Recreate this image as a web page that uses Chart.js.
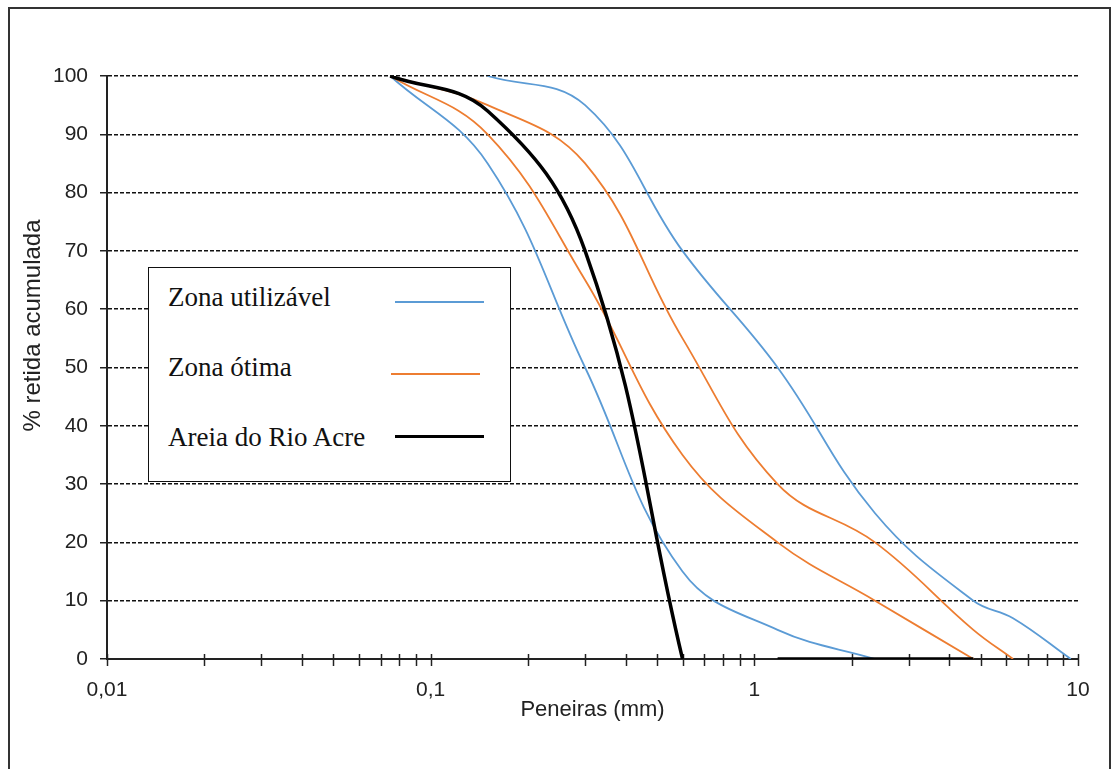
<!DOCTYPE html>
<html>
<head>
<meta charset="utf-8">
<script src="https://cdn.jsdelivr.net/npm/chart.js@4/dist/chart.umd.min.js"></script>
<style>
  body { margin: 0; background: #fff; }
  #wrap { position: absolute; left: 0; top: 0; width: 1112px; height: 769px; }
  #frame { position: absolute; left: 8px; top: 7px; width: 1099px; height: 800px; border: 2px solid #333; }
  #legend { position: absolute; left: 148px; top: 267px; width: 361px; height: 213px; border: 1.5px solid #111; background: #fff;
            font-family: 'Liberation Serif', 'Times New Roman', serif; font-size: 27px; color: #111; }
  .row { position: absolute; left: 19px; line-height: 32px; white-space: nowrap; }
  .smp { position: absolute; }
</style>
</head>
<body>
<div id="wrap"><canvas id="granChart"></canvas></div>
<div id="frame"></div>
<div id="legend">
  <div class="row" style="top:13px">Zona utilizável</div>
  <div class="smp" style="left:246px;top:33px;width:89px;border-top:2px solid #5B9BD5"></div>
  <div class="row" style="top:83px">Zona ótima</div>
  <div class="smp" style="left:242px;top:105px;width:89px;border-top:2px solid #ED7D31"></div>
  <div class="row" style="top:153px">Areia do Rio Acre</div>
  <div class="smp" style="left:246px;top:167px;width:89px;border-top:3.5px solid #000"></div>
</div>
<script>
'use strict';

// peneiras (mm) e % retida acumulada
const sieves     = [0.075, 0.15, 0.3, 0.6, 1.18, 2.36, 4.75, 6.3, 9.5];
const utilLower  = [100,   85,   50,  15,  5,    0,    null, null, null];
const utilUpper  = [null,  100,  95,  70,  50,   25,   10,   7,    0];
const otimaLower = [100,   90,   65,  35,  20,   10,   0,    null, null];
const otimaUpper = [100,   95,   85,  55,  30,   20,   5,    0,    null];
const areia      = [100,   94,   70,  0,   0,    0,    0,    null, null];

const xMajor  = [0.01, 0.1, 1, 10];
const xLabels = ['0,01', '0,1', '1', '10'];
const yTicks  = [0, 10, 20, 30, 40, 50, 60, 70, 80, 90, 100];

const BLUE = '#5B9BD5', ORANGE = '#ED7D31';
const FONT = 'Liberation Sans, Arial';

// marcas menores 2..9 em cada década
const xTickValues = [];
xMajor.forEach((d, i) => {
  xTickValues.push(d);
  if (i < xMajor.length - 1) for (let k = 2; k <= 9; k++) xTickValues.push(+(d * k).toPrecision(3));
});

const pts = arr => sieves.map((x, i) => ({ x, y: arr[i] }));

function line(label, arr, color, width, order) {
  return { label, data: pts(arr), borderColor: color, borderWidth: width, pointRadius: 0,
           tension: 0.4, fill: false, spanGaps: false, order };
}

// marcas do eixo x atravessando a linha do eixo
const xTickMarks = {
  id: 'xTickMarks',
  beforeDatasetsDraw(chart) {
    const { ctx, scales: { x }, chartArea } = chart;
    ctx.save();
    ctx.strokeStyle = '#222';
    ctx.lineWidth = 1.5;
    xTickValues.forEach(v => {
      const px = Math.round(x.getPixelForValue(v)) + 0.5;
      ctx.beginPath();
      ctx.moveTo(px, chartArea.bottom - 5);
      ctx.lineTo(px, chartArea.bottom + 7);
      ctx.stroke();
    });
    ctx.restore();
  }
};

// a curva da areia termina em 0,6 e o trecho em 0 recomeça em 1,18
const areiaCurva = areia.map((v, i) => (i <= 3 ? v : null));
const areiaZero  = areia.map((v, i) => (i >= 4 ? v : null));

new Chart(document.getElementById('granChart').getContext('2d'), {
  type: 'line',
  data: {
    datasets: [
      line('Areia do Rio Acre', areiaCurva, '#000', 3.5, 0),
      line('Areia do Rio Acre', areiaZero, '#000', 3.5, 0),
      line('Zona ótima', otimaLower, ORANGE, 1.8, 1),
      line('Zona ótima', otimaUpper, ORANGE, 1.8, 1),
      line('Zona utilizável', utilLower, BLUE, 1.8, 2),
      line('Zona utilizável', utilUpper, BLUE, 1.8, 2)
    ]
  },
  options: {
    responsive: true, maintainAspectRatio: false, animation: false, devicePixelRatio: 1,
    layout: { padding: { left: 0, top: 76, right: 34, bottom: 0 } },
    plugins: { legend: { display: false }, tooltip: { enabled: false } },
    scales: {
      x: {
        type: 'logarithmic', min: 0.01, max: 10,
        afterBuildTicks: s => { s.ticks = xTickValues.map(v => ({ value: v })); },
        afterFit: s => { s.height = 110; },
        grid: { display: false, drawTicks: false, tickLength: 0 },
        border: { display: true, color: '#222', width: 2 },
        ticks: {
          autoSkip: false, maxRotation: 0, padding: 19, color: '#222',
          font: { family: FONT, size: 21 },
          callback: v => { const i = xMajor.indexOf(v); return i >= 0 ? xLabels[i] : ''; }
        },
        title: { display: true, text: 'Peneiras (mm)', color: '#222',
                 font: { family: FONT, size: 22 }, padding: { top: 0, bottom: 46 } }
      },
      y: {
        min: 0, max: 100,
        afterBuildTicks: s => { s.ticks = yTicks.map(v => ({ value: v })); },
        afterFit: s => { s.width = 107; },
        grid: { color: '#111', lineWidth: 1.5, drawTicks: true, tickLength: 7, tickColor: '#222', tickWidth: 1.5 },
        border: { display: true, color: '#222', width: 2, dash: [4, 2] },
        ticks: { padding: 12, color: '#222', font: { family: FONT, size: 21 } },
        // espaços iniciais sobem o título (no original fica acima do centro)
        title: { display: true, text: '\u2003\u2003\u2003\u2002% retida acumulada', color: '#222',
                 font: { family: FONT, size: 24 }, padding: { top: 19, bottom: 0 } }
      }
    }
  },
  plugins: [xTickMarks]
});
</script>
</body>
</html>
